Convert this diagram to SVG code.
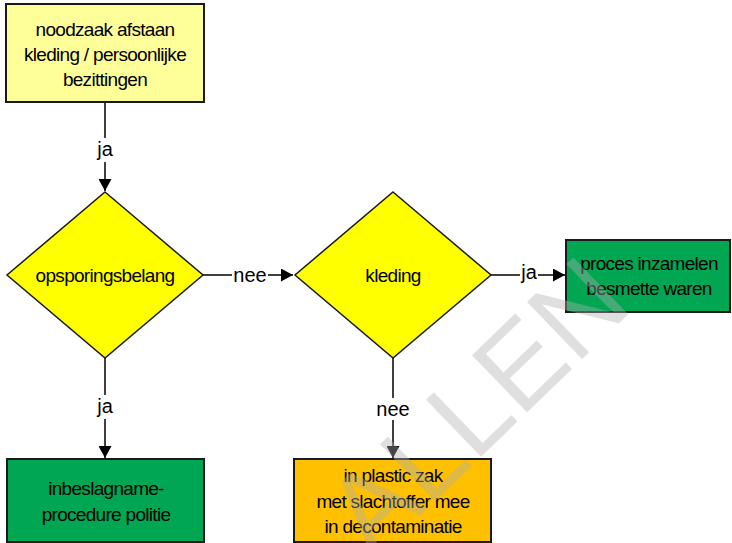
<svg xmlns="http://www.w3.org/2000/svg" width="732" height="543" viewBox="0 0 732 543">
<style>
.box{stroke:#1a1a1a;stroke-width:2}
.dia{stroke:#1a1a1a;stroke-width:1.5;fill:#ffff00}
.t{font-family:"Liberation Sans",Arial,sans-serif;font-size:19px;letter-spacing:-0.7px;fill:#000;text-anchor:middle}
.lbl{font-family:"Liberation Sans",Arial,sans-serif;font-size:20px;fill:#000;text-anchor:middle}
.conn{stroke:#000;stroke-width:1.5;fill:none}
.wm{font-family:"Liberation Sans",Arial,sans-serif;font-size:115px;fill:#b0b0b0;opacity:0.4}
</style>
<defs>
<marker id="arr" markerUnits="userSpaceOnUse" markerWidth="13" markerHeight="13" refX="12" refY="6.5" orient="auto">
<path d="M0,0 L12,6.5 L0,13 z" fill="#000"/>
</marker>
</defs>
<rect width="732" height="543" fill="#fff"/>
<g id="connectors">
<line class="conn" x1="105" y1="103" x2="105" y2="191" marker-end="url(#arr)"/>
<rect x="94" y="138" width="22" height="24" fill="#fff"/>
<text class="lbl" x="105" y="156">ja</text>
<line class="conn" x1="203" y1="275" x2="293" y2="275" marker-end="url(#arr)"/>
<rect x="232" y="264" width="36" height="22" fill="#fff"/>
<text class="lbl" x="250" y="282">nee</text>
<line class="conn" x1="491" y1="275" x2="565" y2="275" marker-end="url(#arr)"/>
<rect x="520" y="263" width="18" height="22" fill="#fff"/>
<text class="lbl" x="529" y="279">ja</text>
<line class="conn" x1="105" y1="358" x2="105" y2="458" marker-end="url(#arr)"/>
<rect x="94" y="395" width="22" height="24" fill="#fff"/>
<text class="lbl" x="105" y="413">ja</text>
<line class="conn" x1="393" y1="358" x2="393" y2="458" marker-end="url(#arr)"/>
<rect x="374" y="398" width="38" height="22" fill="#fff"/>
<text class="lbl" x="393" y="416">nee</text>
</g>
<g id="start">
<rect class="box" x="6" y="4" width="198" height="98" fill="#ffff99"/>
<text class="t" x="105" y="36">noodzaak afstaan</text>
<text class="t" x="105" y="61">kleding / persoonlijke</text>
<text class="t" x="105" y="86">bezittingen</text>
</g>
<g id="opsporingsbelang">
<polygon class="dia" points="105,192 203,275 105,358 7,275"/>
<text class="t" x="105" y="282">opsporingsbelang</text>
</g>
<g id="kleding">
<polygon class="dia" points="393,192 491,275 393,358 295,275"/>
<text class="t" x="393" y="282">kleding</text>
</g>
<g id="proces">
<rect class="box" x="566" y="240" width="164" height="72" fill="#00a651"/>
<text class="t" x="649" y="270">proces inzamelen</text>
<text class="t" x="649" y="295">besmette waren</text>
</g>
<g id="inbeslagname">
<rect class="box" x="7" y="459" width="197" height="83" fill="#00a651"/>
<text class="t" x="106" y="495">inbeslagname-</text>
<text class="t" x="106" y="521">procedure politie</text>
</g>
<g id="plasticzak">
<rect class="box" x="294" y="459" width="197" height="83" fill="#ffc000"/>
<text class="t" x="393" y="482">in plastic zak</text>
<text class="t" x="393" y="508">met slachtoffer mee</text>
<text class="t" x="393" y="533">in decontaminatie</text>
</g>
<text class="wm" transform="translate(373,561) rotate(-44)">ALLEN</text>
</svg>
